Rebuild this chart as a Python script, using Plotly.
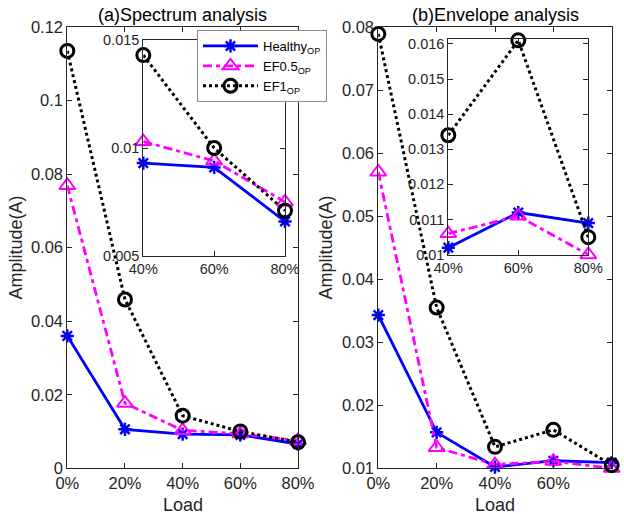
import plotly.graph_objects as go

# ---------------- data ----------------
loads = [0, 20, 40, 60, 80]
inset_loads = [40, 60, 80]
series_names = ["Healthy<sub>OP</sub>", "EF0.5<sub>OP</sub>", "EF1<sub>OP</sub>"]

spec_healthy = [0.0360, 0.0106, 0.0093, 0.0091, 0.0066]
spec_ef05 = [0.0769, 0.0177, 0.0103, 0.0094, 0.0075]
spec_ef1 = [0.1135, 0.0459, 0.0143, 0.0100, 0.0071]

env_healthy = [0.0343, 0.0157, 0.0102, 0.0112, 0.0109]
env_ef05 = [0.0570, 0.0133, 0.0106, 0.0111, 0.0100]
env_ef1 = [0.0789, 0.0355, 0.0134, 0.0161, 0.0105]

titles = ["(a)Spectrum analysis", "(b)Envelope analysis"]
x_title = "Load"
y_title = "Amplitude(A)"

# ---------------- styling ----------------
W, H = 624, 514
FONT = "Liberation Sans, Arial, sans-serif"
TXT = "#262626"

styles = [
    dict(color="#0000ff", dash="solid", width=2.8, symbol="asterisk-open", size=11, mlw=2.5),
    dict(color="#ff00ff", dash="9px,4px,4px,4px", width=2.8, symbol="triangle-up-open", size=14, mlw=2),
    dict(color="#000000", dash="dot", width=3, symbol="circle-open", size=13, mlw=3),
]


def px_dom_x(a, b):
    return [a / W, b / W]


def px_dom_y(top, bottom):
    return [1 - bottom / H, 1 - top / H]


fig = go.Figure()


def add_series(vals_list, xs, xa, ya, legend):
    for name, vals, st in zip(series_names, vals_list, styles):
        fig.add_trace(go.Scatter(
            x=xs, y=vals, name=name, xaxis=xa, yaxis=ya,
            mode="lines+markers", showlegend=legend, cliponaxis=False,
            line=dict(color=st["color"], dash=st["dash"], width=st["width"]),
            marker=dict(symbol=st["symbol"], size=st["size"], color=st["color"],
                        line=dict(color=st["color"], width=st["mlw"])),
        ))


spec = [spec_healthy, spec_ef05, spec_ef1]
env = [env_healthy, env_ef05, env_ef1]

add_series(spec, loads, "x", "y", True)
add_series(env, loads, "x2", "y2", False)
add_series([v[2:] for v in spec], inset_loads, "x3", "y3", False)
add_series([v[2:] for v in env], inset_loads, "x4", "y4", False)


def axis(dom, rng, dtick, size, anchor, suffix=""):
    return dict(domain=dom, range=rng, dtick=dtick, anchor=anchor, automargin=False,
                showline=True, linecolor=TXT, linewidth=1, mirror="ticks",
                ticks="inside", ticklen=5, tickcolor=TXT, tickwidth=1,
                showgrid=False, zeroline=False, ticksuffix=suffix,
                tickfont=dict(family=FONT, size=size, color=TXT))


main_y_dom = px_dom_y(27, 468.3)
fig.update_layout(
    width=W, height=H,
    margin=dict(l=0, r=0, t=0, b=0, autoexpand=False),
    paper_bgcolor="white", plot_bgcolor="white",
    xaxis=axis(px_dom_x(67.3, 298), [0, 80], 20, 16.5, "y", "%"),
    yaxis=axis(main_y_dom, [0, 0.12], 0.02, 16.5, "x"),
    xaxis2=axis(px_dom_x(378.3, 611.7), [0, 80], 20, 16.5, "y2", "%"),
    yaxis2=axis(main_y_dom, [0.01, 0.08], 0.01, 16.5, "x2"),
    xaxis3=axis(px_dom_x(143.3, 285), [40, 80], 20, 14.5, "y3", "%"),
    yaxis3=axis(px_dom_y(40, 256), [0.005, 0.015], 0.005, 14.5, "x3"),
    xaxis4=axis(px_dom_x(448.3, 588.3), [40, 80], 20, 14.5, "y4", "%"),
    yaxis4=axis(px_dom_y(39.3, 254.7), [0.01, 0.01613], 0.001, 14.5, "x4"),
    legend=dict(x=197 / W, y=1 - 30 / H, xanchor="left", yanchor="top",
                bgcolor="white", bordercolor="#8c8c8c", borderwidth=1,
                font=dict(family=FONT, size=13, color="#000000"),
                tracegroupgap=0, itemwidth=55, entrywidth=75),
)

ann = []
for t, cx in zip(titles, [(67.3 + 298) / 2, (378.3 + 611.7) / 2]):
    ann.append(dict(text=t, x=cx / W, y=1 - 15 / H, xref="paper", yref="paper",
                    showarrow=False, xanchor="center", yanchor="middle",
                    font=dict(family=FONT, size=18, color="#000000")))
    ann.append(dict(text=x_title, x=cx / W, y=1 - 505 / H, xref="paper", yref="paper",
                    showarrow=False, xanchor="center", yanchor="middle",
                    font=dict(family=FONT, size=18, color=TXT)))
for cx in [16, 326]:
    ann.append(dict(text=y_title, x=cx / W, y=1 - 247.6 / H, xref="paper", yref="paper",
                    showarrow=False, xanchor="center", yanchor="middle", textangle=-90,
                    font=dict(family=FONT, size=18, color=TXT)))
fig.update_layout(annotations=ann)

fig.write_html("out.html")
